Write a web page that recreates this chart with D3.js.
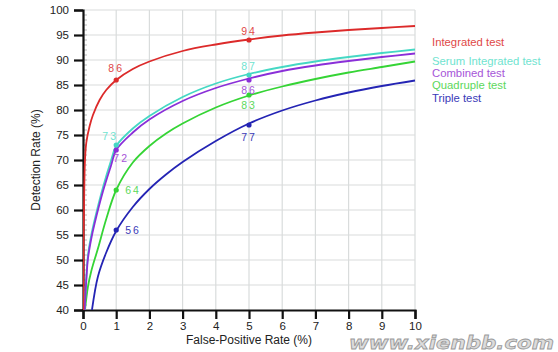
<!DOCTYPE html>
<html>
<head>
<meta charset="utf-8">
<script src="https://cdn.jsdelivr.net/npm/d3@7"></script>
<style>
  body { margin: 0; background: #fff; }
  svg { font-family: "Liberation Sans", Arial, sans-serif; }
</style>
</head>
<body>
<div id="chart"></div>
<script>
// curve points: [false-positive %, detection %]
const integrated = [[0.01,40],[0.02,55],[0.04,65],[0.06,70],[0.1,73.5],[0.2,76.8],[0.3,79],[0.5,82],[0.7,84],[1,86],[1.5,88.2],[2,89.7],[3,91.8],[4,93.1],[5,94.1],[6,94.9],[7,95.5],[8,96],[9,96.4],[10,96.8]];
const serumIntegrated = [[0.05,40],[0.1,46.5],[0.15,51],[0.25,55],[0.35,58],[0.6,64.5],[0.85,70],[1,72.8],[1.5,76.3],[2,78.8],[3,82.6],[4,85.3],[5,87.2],[6,88.6],[7,89.7],[8,90.6],[9,91.4],[10,92.1]];
const combined = [[0.05,40],[0.1,46],[0.15,50.3],[0.25,54.3],[0.35,57.3],[0.6,63.7],[0.85,69],[1,72],[1.5,75.5],[2,78.1],[3,81.8],[4,84.4],[5,86.3],[6,87.8],[7,88.9],[8,89.8],[9,90.6],[10,91.3]];
const quadruple = [[0.06,40],[0.15,44.7],[0.25,47.8],[0.45,52.3],[0.7,58.2],[1,64],[1.5,69.5],[2,72.8],[2.5,75.3],[3,77.3],[4,80.5],[5,82.9],[6,84.7],[7,86.2],[8,87.5],[9,88.6],[10,89.7]];
const triple = [[0.27,40],[0.45,46.7],[0.7,51.5],[1,55.8],[1.5,60.6],[2,64.2],[2.5,67.1],[3,69.6],[4,73.8],[5,77.3],[6,79.9],[7,81.9],[8,83.5],[9,84.8],[10,85.9]];

// marked values at 1% and 5% false-positive rate
const markedRates = [1, 5];
const integratedMarks = [86, 94];
const serumMarks = [73, 87];
const combinedMarks = [72, 86];
const quadrupleMarks = [64, 83];
const tripleMarks = [56, 77];

const seriesNames = ["Integrated test", "Serum Integrated test", "Combined test", "Quadruple test", "Triple test"];
const xTicks = [0, 1, 2, 3, 4, 5, 6, 7, 8, 9, 10];
const yTicks = [40, 45, 50, 55, 60, 65, 70, 75, 80, 85, 90, 95, 100];

const width = 558, height = 352;
const margin = { top: 10, right: 143, bottom: 42, left: 83 };

const svg = d3.select("#chart").append("svg")
  .attr("width", width).attr("height", height);

const x = d3.scaleLinear().domain([0, 10]).range([margin.left, width - margin.right]);
const y = d3.scaleLinear().domain([40, 100]).range([height - margin.bottom, margin.top]);

// grid
svg.append("g").selectAll("line").data(xTicks.slice(1)).join("line")
  .attr("x1", d => x(d)).attr("x2", d => x(d))
  .attr("y1", y(40)).attr("y2", y(100))
  .attr("stroke", "#d9dcdc").attr("stroke-width", 1.2);
svg.append("g").selectAll("line").data(yTicks.slice(1)).join("line")
  .attr("x1", x(0)).attr("x2", x(10))
  .attr("y1", d => y(d)).attr("y2", d => y(d))
  .attr("stroke", "#d9dcdc").attr("stroke-width", 1.2);

// minor ticks on the inside of the y axis
svg.append("g").selectAll("line").data(d3.range(41, 100)).join("line")
  .attr("x1", x(0)).attr("x2", x(0) + 4)
  .attr("y1", d => y(d)).attr("y2", d => y(d))
  .attr("stroke", "#b8b8b8").attr("stroke-width", 1);

// axes
const xAxis = svg.append("g")
  .attr("transform", `translate(0, ${y(40)})`)
  .call(d3.axisBottom(x).tickValues(xTicks).tickSize(9).tickPadding(3).tickFormat(d3.format("d")));
const yAxis = svg.append("g")
  .attr("transform", `translate(${x(0)}, 0)`)
  .call(d3.axisLeft(y).tickValues(yTicks).tickSize(9).tickPadding(5).tickFormat(d3.format("d")));
[xAxis, yAxis].forEach(g => {
  g.select(".domain").attr("stroke", "#111").attr("stroke-width", 2.2);
  g.selectAll(".tick line").attr("stroke", "#111").attr("stroke-width", 2.2);
  g.selectAll("text").attr("fill", "#222").style("font-size", "11.5px")
    .style("font-family", "'Liberation Sans', Arial, sans-serif");
});

// axis titles
svg.append("text")
  .attr("x", x(5)).attr("y", 344)
  .attr("text-anchor", "middle")
  .attr("fill", "#222").style("font-size", "12px")
  .text("False-Positive Rate (%)");
svg.append("text")
  .attr("transform", `translate(40, ${y(70)}) rotate(-90)`)
  .attr("text-anchor", "middle")
  .attr("fill", "#222").style("font-size", "12px")
  .text("Detection Rate (%)");

const series = [
  { name: seriesNames[0], pts: integrated, marks: integratedMarks, line: "#dc2a2a", text: "#e04848" },
  { name: seriesNames[1], pts: serumIntegrated, marks: serumMarks, line: "#45d8c4", text: "#6fe3cf" },
  { name: seriesNames[2], pts: combined, marks: combinedMarks, line: "#8a2fd8", text: "#a655d8" },
  { name: seriesNames[3], pts: quadruple, marks: quadrupleMarks, line: "#35d435", text: "#5cd85c" },
  { name: seriesNames[4], pts: triple, marks: tripleMarks, line: "#2424b4", text: "#3a3ab8" }
];

const lineGen = d3.line().x(d => x(d[0])).y(d => y(d[1])).curve(d3.curveCatmullRom.alpha(0.5));

svg.append("defs").append("clipPath").attr("id", "plot")
  .append("rect").attr("x", x(0)).attr("y", y(100))
  .attr("width", x(10) - x(0) + 2).attr("height", y(40) - y(100));

// draw back to front so the red curve sits on top
[4, 3, 1, 2, 0].forEach(i => {
  const s = series[i];
  svg.append("path")
    .datum(s.pts)
    .attr("clip-path", "url(#plot)")
    .attr("fill", "none")
    .attr("stroke", s.line)
    .attr("stroke-width", 1.8)
    .attr("d", lineGen);
});

series.forEach(s => {
  svg.append("g").selectAll("circle").data(markedRates).join("circle")
    .attr("cx", d => x(d))
    .attr("cy", (d, j) => y(s.marks[j]))
    .attr("r", 2.6)
    .attr("fill", s.line);
});

// value labels: [series index, mark index, dx, dy, anchor]
const labelPlacement = [
  [0, 0, 0, -8, "middle"], [0, 1, 0, -5, "middle"],
  [1, 0, -6, -5, "middle"], [1, 1, 0, -5, "middle"],
  [2, 0, 5, 12, "middle"], [2, 1, 0, 14, "middle"],
  [3, 0, 9, 4, "start"], [3, 1, 0, 14, "middle"],
  [4, 0, 9, 4, "start"], [4, 1, 0, 16, "middle"]
];
labelPlacement.forEach(([si, mi, dx, dy, anchor]) => {
  const s = series[si];
  svg.append("text")
    .attr("x", x(markedRates[mi]) + dx)
    .attr("y", y(s.marks[mi]) + dy)
    .attr("text-anchor", anchor)
    .attr("fill", s.text)
    .style("font-size", "10.5px")
    .style("letter-spacing", "2px")
    .text(s.marks[mi]);
});

// legend
const legendY = [46, 65, 77, 89, 102];
series.forEach((s, i) => {
  svg.append("text")
    .attr("x", 432).attr("y", legendY[i])
    .attr("fill", s.text)
    .style("font-size", "11.3px")
    .text(s.name);
});

// watermark
svg.append("text")
  .attr("x", 349).attr("y", 349)
  .attr("textLength", 205).attr("lengthAdjust", "spacingAndGlyphs")
  .attr("fill", "#dcdcdc").attr("stroke", "#9a9a9a").attr("stroke-width", 0.8)
  .style("font-size", "18px").style("font-style", "italic").style("font-weight", "bold")
  .style("font-family", "'DejaVu Sans', sans-serif")
  .text("www.xienbb.com");
</script>
</body>
</html>
